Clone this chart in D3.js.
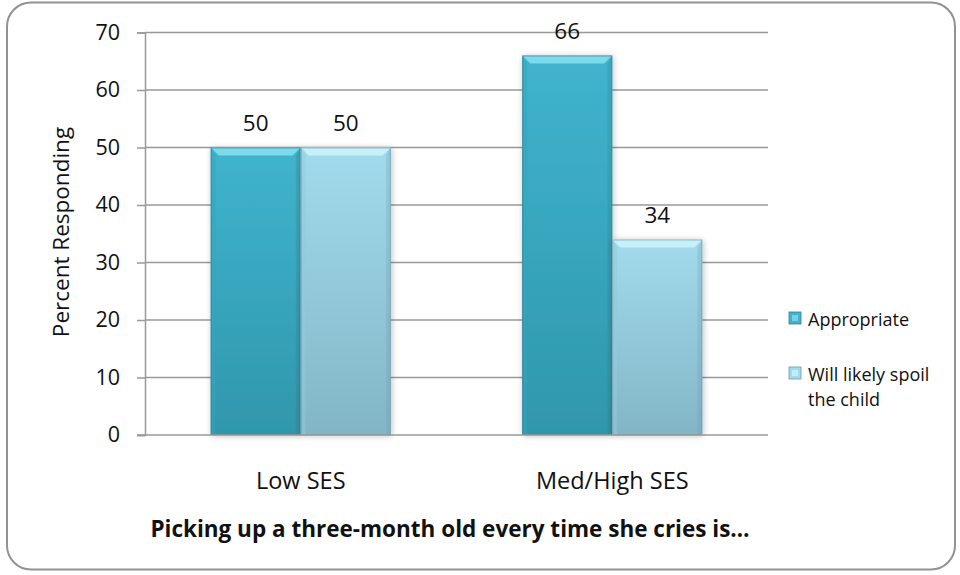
<!DOCTYPE html>
<html>
<head>
<meta charset="utf-8">
<script src="https://cdn.jsdelivr.net/npm/d3@7"></script>
<style>
  html, body { margin: 0; padding: 0; background: #fff; }
  svg { display: block; font-family: "Open Sans", Calibri, sans-serif; }
</style>
</head>
<body>
<svg id="chart" width="960" height="575"></svg>
<script>
// Chart data
const categories = ["Low SES", "Med/High SES"];
const seriesNames = ["Appropriate", "Will likely spoil the child"];
const appropriate = [50, 66];
const willSpoil = [50, 34];
const yTicks = [0, 10, 20, 30, 40, 50, 60, 70];
const xTitle = "Picking up a three-month old every time she cries is…";
const yTitle = "Percent Responding";

const seriesValues = [appropriate, willSpoil];
const rows = categories.map((c, i) => ({
  category: c,
  values: seriesNames.map((s, j) => ({ series: s, idx: j, value: seriesValues[j][i] }))
}));

const svg = d3.select("#chart");
const plot = { left: 145, right: 768, top: 32.5, bottom: 435 };

// Palette per series: gradient top/bottom, bevel highlight, side shade, outline
const palette = [
  { top: "#40b4ce", bottom: "#2f97ac", bevel: "#86e0f2", side: "#35a3bb", edge: "#3b7d8c" },
  { top: "#a2dbed", bottom: "#82b6c6", bevel: "#cff3fc", side: "#93c9da", edge: "#6e98a6" }
];

const defs = svg.append("defs");
palette.forEach((p, i) => {
  const g = defs.append("linearGradient").attr("id", "grad" + i)
    .attr("x1", 0).attr("y1", 0).attr("x2", 0).attr("y2", 1);
  g.append("stop").attr("offset", "0%").attr("stop-color", p.top);
  g.append("stop").attr("offset", "100%").attr("stop-color", p.bottom);
});
const shadow = defs.append("filter").attr("id", "shadow")
  .attr("x", "-20%").attr("y", "-20%").attr("width", "140%").attr("height", "140%");
shadow.append("feGaussianBlur").attr("in", "SourceAlpha").attr("stdDeviation", 3).attr("result", "blur");
shadow.append("feOffset").attr("in", "blur").attr("dx", 1).attr("dy", 1).attr("result", "off");
shadow.append("feComponentTransfer").attr("in", "off").attr("result", "soft")
  .append("feFuncA").attr("type", "linear").attr("slope", 0.25);
const merge = shadow.append("feMerge");
merge.append("feMergeNode").attr("in", "soft");
merge.append("feMergeNode").attr("in", "SourceGraphic");

// Outer rounded frame
svg.append("rect")
  .attr("x", 7).attr("y", 2.5).attr("width", 948).attr("height", 567)
  .attr("rx", 24).attr("ry", 24)
  .attr("fill", "#fff").attr("stroke", "#929292").attr("stroke-width", 2);

// Scales
const y = d3.scaleLinear().domain([0, 70]).range([plot.bottom, plot.top]);
const x0 = d3.scaleBand().domain(categories).range([plot.left, plot.right]).padding(0);
const x1 = d3.scaleBand().domain(seriesNames).range([0, x0.bandwidth()])
  .paddingInner(0).paddingOuter(0.73);

// Gridlines
svg.append("g").selectAll("line").data(yTicks.filter(t => t > 0)).join("line")
  .attr("x1", plot.left).attr("x2", plot.right)
  .attr("y1", d => y(d)).attr("y2", d => y(d))
  .attr("stroke", "#999").attr("stroke-width", 1.5);

// Y axis
const yAxis = svg.append("g")
  .attr("transform", `translate(${plot.left},0)`)
  .call(d3.axisLeft(y).tickValues(yTicks).tickSize(8).tickPadding(17).tickFormat(d3.format("d")));
yAxis.select(".domain").attr("stroke", "#999").attr("stroke-width", 1.5);
yAxis.selectAll(".tick line").attr("stroke", "#999").attr("stroke-width", 1.5);
yAxis.selectAll(".tick text")
  .attr("fill", "#111").style("font-size", "21.5px")
  .style("font-family", "'Open Sans', Calibri, sans-serif");

// Bars with bevelled tops
const bev = 8;
const groups = svg.append("g").selectAll("g").data(rows).join("g")
  .attr("transform", d => `translate(${x0(d.category)},0)`);

const bars = groups.selectAll("g.bar").data(d => d.values).join("g")
  .attr("class", "bar")
  .attr("filter", "url(#shadow)");

bars.each(function(d) {
  const g = d3.select(this);
  const p = palette[d.idx];
  const bx = x1(d.series), bw = x1.bandwidth();
  const by = y(d.value), bh = y(0) - y(d.value);
  g.append("rect").attr("x", bx).attr("y", by).attr("width", bw).attr("height", bh)
    .attr("fill", `url(#grad${d.idx})`);
  g.append("path")
    .attr("d", `M${bx},${by}L${bx + bw},${by}L${bx + bw - bev},${by + bev}L${bx + bev},${by + bev}Z`)
    .attr("fill", p.bevel).attr("opacity", 0.85);
  g.append("path")
    .attr("d", `M${bx},${by}L${bx + bev * 0.6},${by + bev}L${bx + bev * 0.6},${by + bh}L${bx},${by + bh}Z`)
    .attr("fill", p.side).attr("opacity", 0.5);
  g.append("path")
    .attr("d", `M${bx + bw},${by}L${bx + bw - bev * 0.6},${by + bev}L${bx + bw - bev * 0.6},${by + bh}L${bx + bw},${by + bh}Z`)
    .attr("fill", p.edge).attr("opacity", 0.25);
  g.append("rect").attr("x", bx + 0.5).attr("y", by + 0.5).attr("width", bw - 1).attr("height", bh - 1)
    .attr("fill", "none").attr("stroke", p.edge).attr("stroke-opacity", 0.6).attr("stroke-width", 1);
});

// Value labels
groups.selectAll("text.val").data(d => d.values).join("text")
  .attr("class", "val")
  .attr("x", d => x1(d.series) + x1.bandwidth() / 2)
  .attr("y", d => y(d.value) - 17)
  .attr("text-anchor", "middle")
  .attr("fill", "#111").style("font-size", "22.5px")
  .text(d => d3.format("d")(d.value));

// X axis baseline
svg.append("line")
  .attr("x1", plot.left - 8).attr("x2", plot.right)
  .attr("y1", y(0)).attr("y2", y(0))
  .attr("stroke", "#999").attr("stroke-width", 1.5);

// Category labels
svg.append("g").selectAll("text").data(categories).join("text")
  .attr("x", d => x0(d) + x0.bandwidth() / 2)
  .attr("y", 489)
  .attr("text-anchor", "middle")
  .attr("fill", "#111").style("font-size", "23.5px")
  .text(d => d);

// Axis titles
svg.append("text")
  .attr("transform", `translate(69,232) rotate(-90)`)
  .attr("text-anchor", "middle")
  .attr("fill", "#111").style("font-size", "22.5px")
  .text(yTitle);

svg.append("text")
  .attr("x", 450).attr("y", 537)
  .attr("text-anchor", "middle")
  .attr("fill", "#111").style("font-size", "22.5px").style("font-weight", "bold")
  .text(xTitle);

// Legend
const legendLines = [["Appropriate"], ["Will likely spoil", "the child"]];
const legend = svg.append("g").selectAll("g").data(seriesNames).join("g")
  .attr("transform", (d, i) => `translate(789,${312 + i * 55})`);
legend.append("rect")
  .attr("width", 12).attr("height", 12)
  .attr("fill", (d, i) => palette[i].top)
  .attr("stroke", (d, i) => palette[i].edge).attr("stroke-width", 0.8);
legend.append("rect")
  .attr("x", 3).attr("y", 3).attr("width", 6).attr("height", 6)
  .attr("fill", (d, i) => palette[i].bevel).attr("opacity", 0.7);
legend.append("text")
  .attr("x", 19).attr("y", 14)
  .attr("fill", "#111").style("font-size", "18px")
  .selectAll("tspan").data((d, i) => legendLines[i]).join("tspan")
  .attr("x", 19).attr("dy", (d, k) => k === 0 ? 0 : 25)
  .text(d => d);
</script>
</body>
</html>
